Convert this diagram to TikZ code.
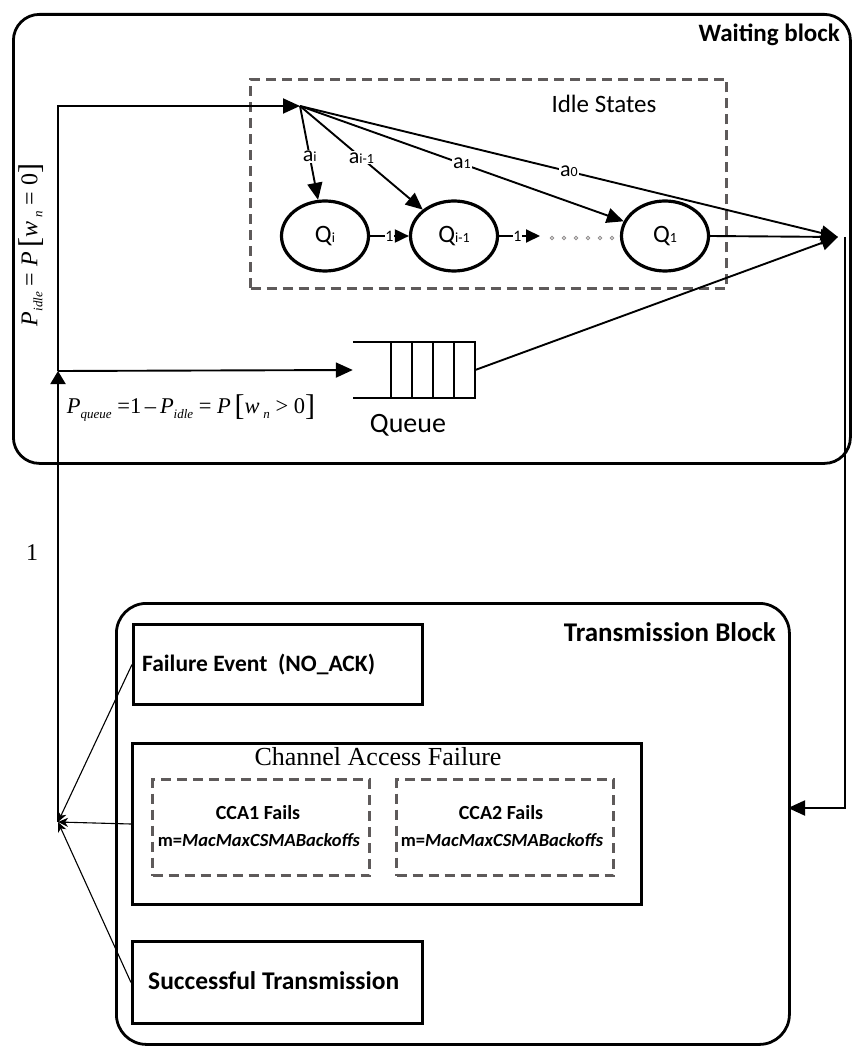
\documentclass[tikz,border=0pt]{standalone}
\usepackage{fontspec}
\setmainfont{Liberation Serif}
\newfontfamily\carl{Carlito}
\usetikzlibrary{shapes.geometric,arrows.meta}
\definecolor{dgray}{HTML}{5E5A5A}
\newcommand\sbs[1]{{\fontsize{14}{14}\selectfont #1}}
\newcommand\msub[1]{\raisebox{-5pt}{\fontsize{13}{13}\selectfont\itshape #1}}
\newcommand\bigbr[1]{{\fontsize{30}{30}\selectfont\raisebox{-2pt}{#1}}}
\begin{document}
\begin{tikzpicture}[x=1pt,y=-1pt,
  blk/.style={draw, line width=2.8pt, rounded corners=26pt, anchor=north west, inner sep=0pt},
  box/.style={draw, line width=3pt, inner sep=0pt, anchor=north west},
  dbox/.style={draw=dgray, line width=3pt, dash pattern=on 10pt off 6pt, anchor=north west, inner sep=0pt},
  st/.style={draw, ellipse, line width=3.2pt, minimum width=87pt, minimum height=70pt, inner sep=0pt, font=\carl\fontsize{25}{25}\selectfont},
  arr/.style={line width=1.9pt, -{Triangle[length=17pt,width=15pt]}},
  one/.style={line width=1.9pt, -{Triangle[length=14pt,width=13pt]}},
  carr/.style={line width=1.1pt, -{Stealth[length=10pt,width=9pt,inset=3pt]}},
  lab/.style={fill=white, inner sep=1pt, font=\carl\fontsize{22}{22}\selectfont},
  onelab/.style={fill=white, inner sep=0.3pt, font=\carl\fontsize{16}{16}\selectfont},
  btxt/.style={font=\carl\bfseries\fontsize{24}{24}\selectfont, inner sep=0pt},
  ctxt/.style={font=\carl\bfseries\fontsize{18.5}{18.5}\selectfont, inner sep=0pt}
]
\useasboundingbox (0,0) rectangle (852,1048);

% Waiting block
\node[blk, minimum width=837pt, minimum height=449pt] (WB) at (12,13) {};
\node[btxt, anchor=east, font=\carl\bfseries\fontsize{25}{25}\selectfont] (WBt) at (840,35) {Waiting block};
\node[dbox, minimum width=476pt, minimum height=209pt] (IS) at (249,78) {};
\node[font=\carl\fontsize{25}{25}\selectfont, inner sep=0pt] (ISt) at (604,104) {Idle States};

% states
\node[st] (Qi) at (325,236) {Q\sbs{i}};
\node[st] (Qim) at (454,236) {Q\sbs{i-1}};
\node[st] (Q1) at (665,236) {Q\sbs{1}};
\coordinate (E) at (300,106);
\coordinate (R) at (838,237);
\coordinate (Rd) at (845,237);
\coordinate (D) at (540,236);
\coordinate (J) at (58,371);
\coordinate (C) at (58,822);
\coordinate (TBin) at (788,808);

\draw[one] (Qi.east) -- node[onelab]{1} (Qim.west);
\draw[one] (Qim.east) -- node[onelab, pos=0.45]{1} (D);
\foreach \x in {552,564,576,588,600,612}
  \draw[dgray!70, line width=0.8pt] (\x,238) circle (1.8pt);

\draw[arr] (E) -- node[lab, pos=0.54]{a\sbs{i}} (Qi);
\draw[arr] (E) -- node[lab, pos=0.5]{a\sbs{i-1}} (Qim);
\draw[arr] (E) -- node[lab, pos=0.5]{a\sbs{1}} (Q1);
\draw[arr] (E) -- node[lab, pos=0.5]{a\sbs{0}} (R);
\draw[arr] (Q1.east) -- (R);

% queue
\node[minimum width=122pt, minimum height=55pt, inner sep=0pt] (Qu) at (414,370) {};
\draw[line width=2pt] (Qu.north west) -- (Qu.north east) -- (Qu.south east) -- (Qu.south west);
\foreach \d in {38,59,80,101}
  \draw[line width=2pt] (Qu.north west) ++(\d,0) -- ++(0,55);
\node[font=\carl\fontsize{28}{28}\selectfont, inner sep=0pt] (Qut) at (408,425) {Queue};
\draw[arr] (Qu.east) -- (R);

% left feedback
\draw[line width=1.9pt, -{Triangle[length=13pt,width=15pt]}] (C) -- (J);
\draw[arr] (J) |- (E);
\draw[arr] (J) -- (Qu.west);
\node[rotate=90, inner sep=0pt, font=\fontsize{24}{24}\selectfont] (Pidle) at (31,245)
  {\textit{P}\msub{idle}\ = \textit{P}\,\bigbr{[}\textit{w}\,\msub{n}\ = 0\bigbr{]}};
\node[inner sep=0pt, font=\fontsize{22.5}{22.5}\selectfont] (Pq) at (191,408)
  {\textit{P}\msub{queue}\ =1\,--\,\textit{P}\msub{idle}\ = \textit{P}\,\bigbr{[}\textit{w}\,\msub{n}\ {>}\ 0\bigbr{]}};
\node[inner sep=0pt, font=\fontsize{24}{24}\selectfont] (one) at (32,553) {1};

% right feedback
\draw[arr] (Rd) |- (TBin);

% Transmission block
\node[blk, rounded corners=30pt, minimum width=673pt, minimum height=441pt] (TB) at (115,602) {};
\node[btxt, anchor=east, font=\carl\bfseries\fontsize{27}{27}\selectfont] (TBt) at (776,632) {Transmission Block};
\node[box, minimum width=289pt, minimum height=80pt] (FE) at (132,623) {};
\node[btxt, anchor=west, font=\carl\bfseries\fontsize{23.5}{23.5}\selectfont] (FEt) at (142,665) {Failure Event\ \ (NO\_ACK)};
\node[box, minimum width=509pt, minimum height=161pt] (CAF) at (131,742) {};
\node[inner sep=0pt, font=\fontsize{26}{26}\selectfont] (CAFt) at (378,757) {Channel Access Failure};
\node[dbox, minimum width=217pt, minimum height=96pt] (C1) at (151,778) {};
\node[dbox, minimum width=217pt, minimum height=96pt] (C2) at (395,778) {};
\node[ctxt, font=\carl\bfseries\fontsize{20}{20}\selectfont] (C1a) at (258,813) {CCA1 Fails};
\node[ctxt] (C1b) at (259,840) {m=\textit{MacMaxCSMABackoffs}};
\node[ctxt, font=\carl\bfseries\fontsize{20}{20}\selectfont] (C2a) at (501,813) {CCA2 Fails};
\node[ctxt] (C2b) at (502,840) {m=\textit{MacMaxCSMABackoffs}};
\node[box, minimum width=290pt, minimum height=82pt] (ST) at (131,940) {};
\node[btxt, anchor=west, font=\carl\bfseries\fontsize{25.5}{25.5}\selectfont] (STt) at (148,981) {Successful Transmission};

\draw[carr] (FE.west) -- (C);
\draw[carr] (CAF.west) -- (C);
\draw[carr] (ST.west) -- (C);
\end{tikzpicture}
\end{document}
